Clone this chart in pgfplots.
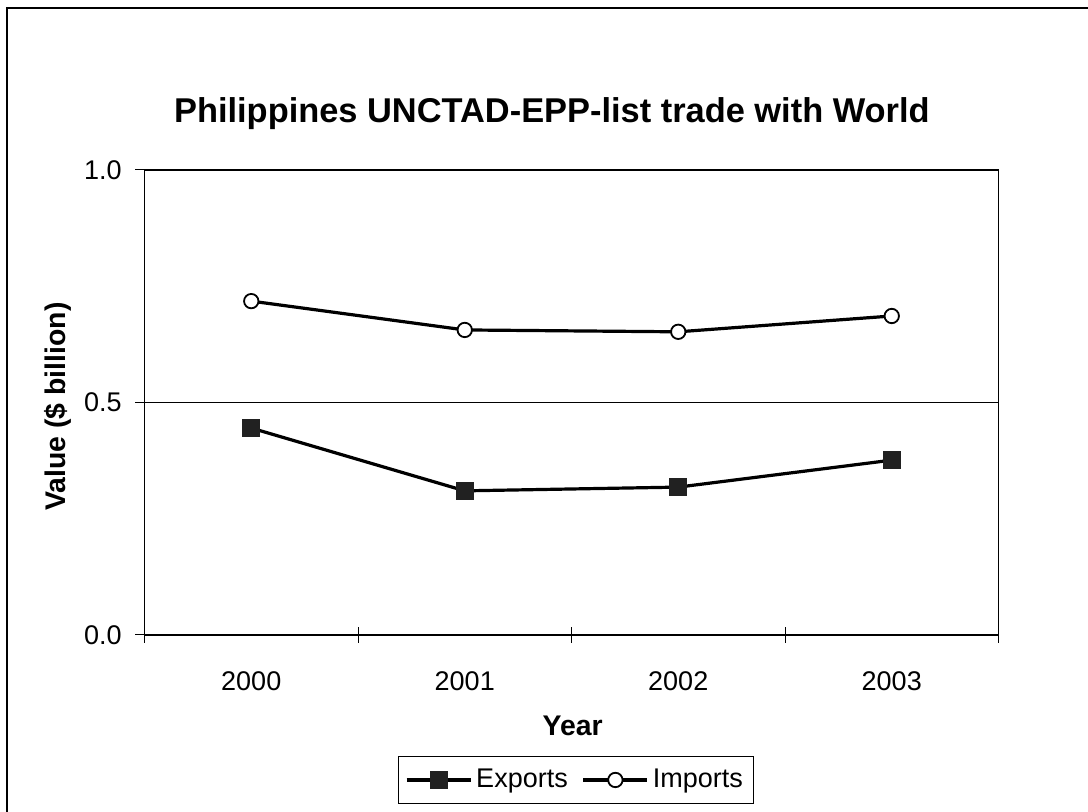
\documentclass[border=0pt]{standalone}
\usepackage{pgfplots}
\pgfplotsset{compat=1.18}
\usepackage{fontspec}
\setmainfont{Liberation Sans}
\newcommand\fs{\fontsize{13.5pt}{16pt}\selectfont}
\newcommand\fb{\fontsize{14.2pt}{17pt}\selectfont}
\begin{document}
\begin{tikzpicture}
\useasboundingbox (0,0) rectangle (544pt,406pt);
\draw[line width=0.8pt] (3.6pt,-2pt) -- (3.6pt,402pt) -- (550pt,402pt);
\begin{axis}[
  at={(72.25pt,88.5pt)}, anchor=south west,
  width=427pt, height=232.5pt, scale only axis,
  xmin=-0.5, xmax=3.5, ymin=0, ymax=1,
  xtick={0,1,2,3}, xticklabels={2000,2001,2002,2003},
  minor xtick={-0.5,0.5,1.5,2.5,3.5},
  major x tick style={draw=none},
  xtick pos=bottom, ytick pos=left,
  xtick align=center, ytick align=outside,
  major tick length=4.5pt, minor tick length=8pt,
  ytick={0,0.5,1}, yticklabels={0.0,0.5,1.0},
  tick style={black, line width=0.5pt},
  axis line style={black, line width=0.9pt},
  ymajorgrids, grid style={black, line width=0.5pt},
  xticklabel style={font=\fs, anchor=base, inner sep=0pt, yshift=-25.3pt},
  yticklabel style={font=\fs, anchor=east, inner sep=0pt, xshift=-6.75pt},
  /pgf/number format/assume math mode=true,
  title={Philippines UNCTAD-EPP-list trade with World},
  title style={font=\bfseries\fontsize{17.2pt}{20pt}\selectfont, at={(axis description cs:0.477,1.0753)}, anchor=base, inner sep=0pt},
  xlabel={Year},
  xlabel style={font=\bfseries\fb, at={(axis description cs:0.5014,-0.2151)}, anchor=base, inner sep=0pt},
  ylabel={Value (\$ billion)},
  ylabel style={font=\bfseries\fb, at={(axis description cs:-0.0925,0.491)}, anchor=base, inner sep=0pt},
  legend columns=2,
  legend style={at={(axis description cs:0.5053,-0.3118)}, anchor=center, draw=black, line width=0.5pt, font=\fs, inner xsep=3.5pt, inner ysep=4.5pt, /tikz/every even column/.append style={column sep=5pt}},
  legend image code/.code={\draw[mark repeat=2,mark phase=2] plot coordinates {(0pt,0pt) (16pt,0pt) (32pt,0pt)};},
]
\addplot[black, line width=1.6pt, mark=square*, mark size=4.25pt, mark options={solid, fill=black!87, draw=black!87, line width=0pt}] coordinates {(0,0.445) (1,0.310) (2,0.318) (3,0.376)};
\addlegendentry{Exports}
\addplot[black, line width=1.6pt, mark=*, mark size=3.6pt, mark options={solid, fill=white, draw=black, line width=0.9pt}] coordinates {(0,0.718) (1,0.656) (2,0.652) (3,0.686)};
\addlegendentry{Imports}
\end{axis}
\end{tikzpicture}
\end{document}
